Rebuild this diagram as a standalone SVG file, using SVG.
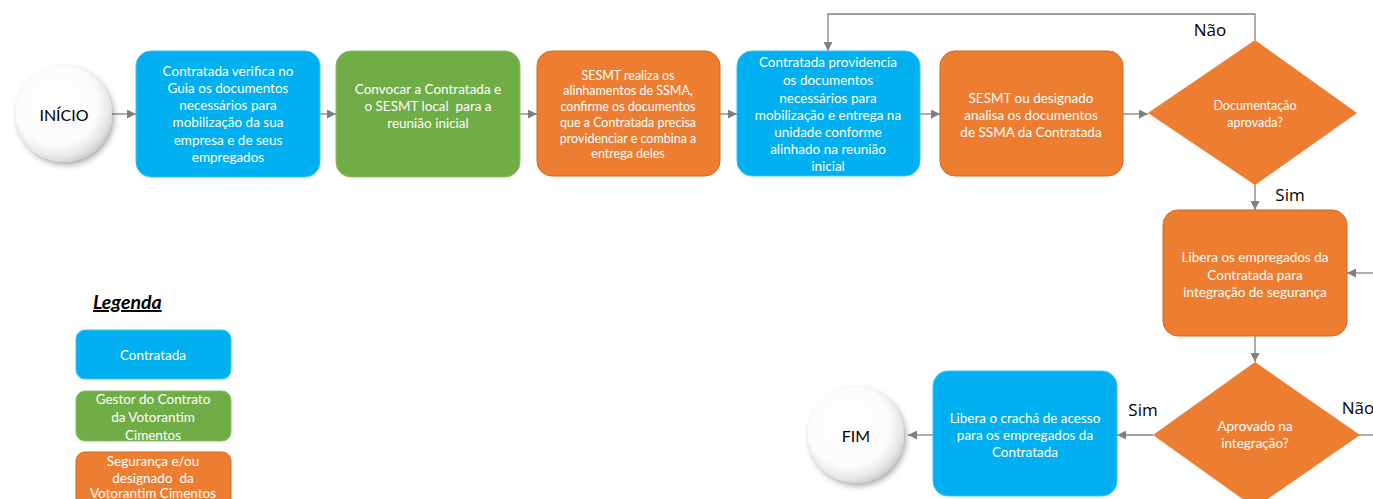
<svg xmlns="http://www.w3.org/2000/svg" width="1373" height="499" viewBox="0 0 1373 499">
<defs>
<marker id="arr" viewBox="0 0 10 10" refX="10" refY="5" markerWidth="9" markerHeight="9" markerUnits="userSpaceOnUse" orient="auto">
<path d="M0,0 L10,5 L0,10 z" fill="#808080"/>
</marker>
<radialGradient id="circ" cx="0.42" cy="0.4" r="0.62">
<stop offset="0" stop-color="#ffffff"/>
<stop offset="0.7" stop-color="#fbfbfb"/>
<stop offset="0.9" stop-color="#e6e6e6"/>
<stop offset="1" stop-color="#cfcfcf"/>
</radialGradient>
<filter id="sh" x="-30%" y="-30%" width="160%" height="160%">
<feGaussianBlur in="SourceAlpha" stdDeviation="3"/>
<feOffset dx="2" dy="3"/>
<feComponentTransfer><feFuncA type="linear" slope="0.35"/></feComponentTransfer>
<feMerge><feMergeNode/><feMergeNode in="SourceGraphic"/></feMerge>
</filter>
</defs>
<style>
.blue{fill:#00B0F0;stroke:#3DC2F2;stroke-width:1}
.green{fill:#70AD47;stroke:#86BC62;stroke-width:1}
.orange{fill:#ED7D31;stroke:#CF6823;stroke-width:1}
.dia{fill:#ED7D31}
.t{font-family:Lato,"Open Sans",sans-serif;font-size:13.5px;fill:#ffffff;text-anchor:middle;dominant-baseline:central;white-space:pre}
.ts{font-family:Lato,"Open Sans",sans-serif;font-size:12.5px;fill:#ffffff;text-anchor:middle;dominant-baseline:central}
.dk{font-family:Lato,"Open Sans",sans-serif;font-size:16px;fill:#000000;text-anchor:middle;dominant-baseline:central}
.lbl{font-family:"Open Sans",sans-serif;font-size:17px;fill:#000000;text-anchor:middle;dominant-baseline:central}
.c{fill:none;stroke:#808080;stroke-width:1.3}
.ca{fill:none;stroke:#808080;stroke-width:1.3;marker-end:url(#arr)}
</style>

<g id="connectors">
<line class="ca" x1="112" y1="114" x2="136" y2="114"/>
<line class="ca" x1="320" y1="114" x2="336" y2="114"/>
<line class="ca" x1="520" y1="114" x2="537" y2="114"/>
<line class="ca" x1="720" y1="114" x2="737" y2="114"/>
<line class="ca" x1="920" y1="114" x2="940" y2="114"/>
<line class="ca" x1="1123" y1="114" x2="1148" y2="114"/>
<polyline class="ca" points="1255,40 1255,14 828,14 828,51"/>
<line class="ca" x1="1255" y1="185" x2="1255" y2="210"/>
<line class="ca" x1="1373" y1="273" x2="1347" y2="273"/>
<line class="ca" x1="1255" y1="336" x2="1255" y2="362"/>
<line class="ca" x1="1153" y1="435" x2="1117" y2="435"/>
<line class="ca" x1="933" y1="435" x2="908" y2="435"/>
<line class="c" x1="1358" y1="435" x2="1373" y2="435"/>
<text class="lbl" x="1210" y="29">Não</text>
<text class="lbl" x="1290" y="194">Sim</text>
<text class="lbl" x="1143" y="409">Sim</text>
<text class="lbl" x="1358" y="407">Não</text>
</g>

<g id="inicio">
<circle cx="64" cy="114" r="48" fill="url(#circ)" filter="url(#sh)"/>
<text class="dk" x="64" y="114">INÍCIO</text>
</g>

<g id="box1">
<rect class="blue" x="136" y="51" width="184" height="126" rx="15"/>
<text class="t" x="228" y="71">Contratada verifica no</text>
<text class="t" x="228" y="88">Guia os documentos</text>
<text class="t" x="228" y="105">necessários para</text>
<text class="t" x="228" y="122">mobilização da sua</text>
<text class="t" x="228" y="140">empresa e de seus</text>
<text class="t" x="228" y="157">empregados</text>
</g>

<g id="box2">
<rect class="green" x="336" y="51" width="184" height="126" rx="15"/>
<text class="t" x="428" y="89">Convocar a Contratada e</text>
<text class="t" x="428" y="106">o SESMT local  para a</text>
<text class="t" x="428" y="123">reunião inicial</text>
</g>

<g id="box3">
<rect class="orange" x="537" y="51" width="183" height="125" rx="15"/>
<text class="ts" x="628" y="75">SESMT realiza os</text>
<text class="ts" x="628" y="90">alinhamentos de SSMA,</text>
<text class="ts" x="628" y="106">confirme os documentos</text>
<text class="ts" x="628" y="122">que a Contratada precisa</text>
<text class="ts" x="628" y="138">providenciar e combina a</text>
<text class="ts" x="628" y="153">entrega deles</text>
</g>

<g id="box4">
<rect class="blue" x="737" y="51" width="183" height="125" rx="15"/>
<text class="t" x="828" y="62">Contratada providencia</text>
<text class="t" x="828" y="80">os documentos</text>
<text class="t" x="828" y="98">necessários para</text>
<text class="t" x="828" y="115">mobilização e entrega na</text>
<text class="t" x="828" y="132">unidade conforme</text>
<text class="t" x="828" y="149">alinhado na reunião</text>
<text class="t" x="828" y="166">inicial</text>
</g>

<g id="box5">
<rect class="orange" x="940" y="51" width="183" height="125" rx="15"/>
<text class="t" x="1031" y="98">SESMT ou designado</text>
<text class="t" x="1031" y="115">analisa os documentos</text>
<text class="t" x="1031" y="132">de SSMA da Contratada</text>
</g>

<g id="decision1">
<polygon class="dia" points="1255,40 1357,113 1255,185 1148,113"/>
<text class="ts" x="1255" y="105">Documentação</text>
<text class="ts" x="1255" y="122">aprovada?</text>
</g>

<g id="box6">
<rect class="orange" x="1163" y="210" width="184" height="126" rx="15"/>
<text class="t" x="1255" y="257">Libera os empregados da</text>
<text class="t" x="1255" y="275">Contratada para</text>
<text class="t" x="1255" y="292">integração de segurança</text>
</g>

<g id="decision2">
<polygon class="dia" points="1255,362 1360,435 1255,508 1153,435"/>
<text class="t" x="1255" y="426">Aprovado na</text>
<text class="t" x="1255" y="443">integração?</text>
</g>

<g id="box7">
<rect class="blue" x="933" y="371" width="184" height="125" rx="15"/>
<text class="t" x="1025" y="418">Libera o crachá de acesso</text>
<text class="t" x="1025" y="435">para os empregados da</text>
<text class="t" x="1025" y="452">Contratada</text>
</g>

<g id="fim">
<circle cx="856" cy="435" r="48" fill="url(#circ)" filter="url(#sh)"/>
<text class="dk" x="856" y="435">FIM</text>
</g>

<g id="legend">
<text x="93" y="309" font-family="Lato,'Open Sans',sans-serif" font-size="19.5" font-weight="bold" font-style="italic" text-decoration="underline" fill="#000">Legenda</text>
<rect class="blue" x="76" y="330" width="155" height="49" rx="9"/>
<text class="t" x="153" y="355">Contratada</text>
<rect class="green" x="76" y="391" width="155" height="50" rx="9"/>
<text class="t" x="153" y="399">Gestor do Contrato</text>
<text class="t" x="153" y="417">da Votorantim</text>
<text class="t" x="153" y="435">Cimentos</text>
<rect class="orange" x="76" y="452" width="155" height="60" rx="9"/>
<text class="t" x="153" y="461">Segurança e/ou</text>
<text class="t" x="153" y="478">designado  da</text>
<text class="t" x="153" y="493">Votorantim Cimentos</text>
</g>
</svg>
